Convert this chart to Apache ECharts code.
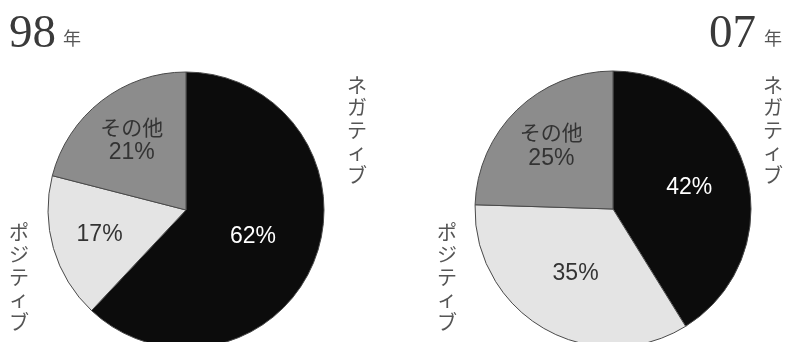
<!DOCTYPE html>
<html>
<head>
<meta charset="utf-8">
<script src="https://cdn.jsdelivr.net/npm/echarts@6/dist/echarts.min.js"></script>
<style>
    html, body { margin: 0; padding: 0; background: #fff; }
    #main { width: 787px; height: 342px; }
</style>
</head>
<body>
<div id="main"></div>
<script>
    // 区分
    var categories = ['ネガティブ', 'ポジティブ', 'その他'];
    // 年ごとの割合 (%)
    var years = ['98', '07'];
    var values98 = [62, 17, 21];
    var values07 = [42, 35, 25];

    var chart = echarts.init(document.getElementById('main'));

    var colors = ['#0c0c0c', '#e4e4e4', '#8c8c8c'];
    var labelColors = ['#ffffff', '#333333', '#333333'];
    var centers = [[186, 210], [613, 209]];
    // ラベルを中心から押し出す倍率
    var labelPush = [[1.0, 1.25, 1.23], [1.1, 1.04, 1.23]];
    var baseFont = '"Liberation Sans", "Noto Sans CJK JP", sans-serif';

    function buildData(vals) {
        var list = [];
        for (var i = 0; i < categories.length; i++) {
            list.push({
                name: categories[i],
                value: vals[i],
                itemStyle: { color: colors[i] },
                label: { color: labelColors[i] }
            });
        }
        return list;
    }

    function pieSeries(idx, vals) {
        return {
            type: 'pie',
            center: centers[idx],
            radius: 138,
            startAngle: 90,
            clockwise: true,
            silent: true,
            animation: false,
            itemStyle: { borderColor: '#4a4a4a', borderWidth: 1 },
            label: {
                show: true,
                position: 'inside',
                fontFamily: baseFont,
                fontSize: 23,
                lineHeight: 26,
                formatter: function (p) {
                    if (p.dataIndex == 2) {
                        return '{jp|' + p.name + '}\n' + p.value + '%';
                    }
                    return p.value + '%';
                },
                rich: {
                    jp: { fontFamily: '"Noto Sans CJK JP", sans-serif', fontSize: 21, lineHeight: 26 }
                }
            },
            labelLine: { show: false },
            labelLayout: function (params) {
                var r = params.labelRect;
                var c = centers[idx];
                var f = labelPush[idx][params.dataIndex] - 1;
                var lx = r.x + r.width / 2 - c[0];
                var ly = r.y + r.height / 2 - c[1];
                return { dx: lx * f, dy: ly * f };
            },
            data: buildData(vals)
        };
    }

    function vText(str) {
        return str.split('').join('\n');
    }

    var sideStyle = {
        fill: '#555',
        fontFamily: '"Noto Sans CJK JP", sans-serif',
        fontSize: 20,
        lineHeight: 22.5,
        align: 'center'
    };

    var option = {
        backgroundColor: '#ffffff',
        series: [pieSeries(0, values98), pieSeries(1, values07)],
        graphic: [
            // 年タイトル
            { type: 'text', left: 9, top: 11, style: { text: years[0], font: '47px "Liberation Serif", serif', fill: '#3a3a3a' } },
            { type: 'text', left: 63, top: 29, style: { text: '年', font: '18px "Noto Sans CJK JP", sans-serif', fill: '#555' } },
            { type: 'text', left: 709, top: 11, style: { text: years[1], font: '47px "Liberation Serif", serif', fill: '#3a3a3a' } },
            { type: 'text', left: 764, top: 29, style: { text: '年', font: '18px "Noto Sans CJK JP", sans-serif', fill: '#555' } },
            // 縦書きラベル
            { type: 'text', x: 357, y: 74, style: echarts.util.extend({ text: vText(categories[0]) }, sideStyle) },
            { type: 'text', x: 773, y: 74, style: echarts.util.extend({ text: vText(categories[0]) }, sideStyle) },
            { type: 'text', x: 19, y: 221, style: echarts.util.extend({ text: vText(categories[1]) }, sideStyle) },
            { type: 'text', x: 447, y: 221, style: echarts.util.extend({ text: vText(categories[1]) }, sideStyle) }
        ]
    };

    chart.setOption(option);
</script>
</body>
</html>
